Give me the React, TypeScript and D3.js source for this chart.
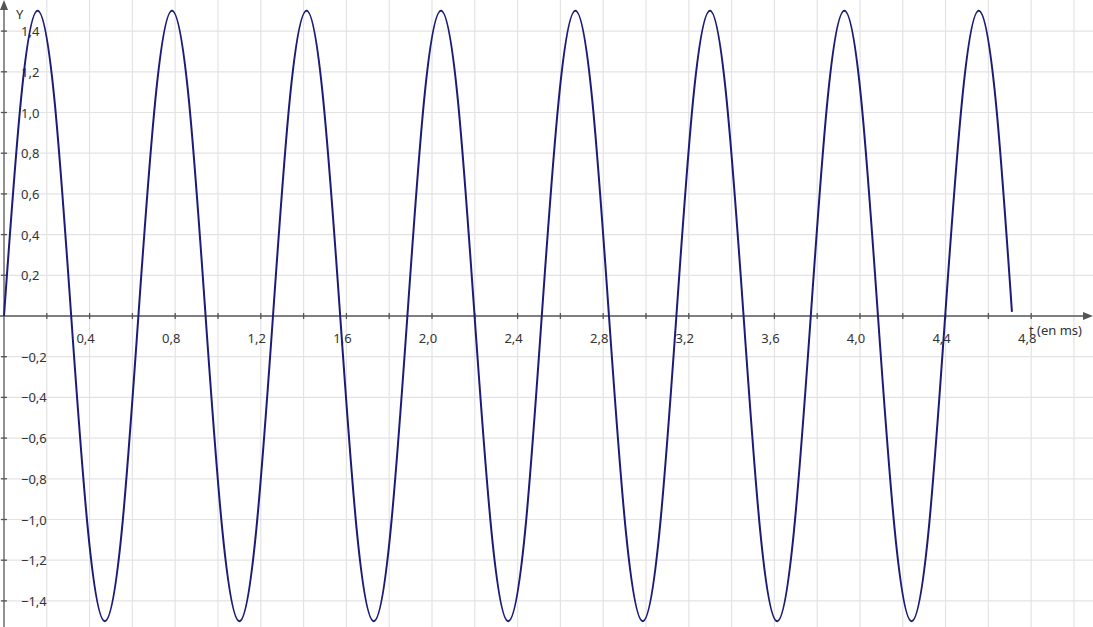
import * as d3 from "d3";
import { useEffect, useRef } from "react";

// signal samples (t in ms, amplitude)
const tValues = [
  0, 0.079, 0.157, 0.236, 0.314, 0.393, 0.471, 0.55, 0.628, 0.707, 0.785, 0.864,
  0.942, 1.021, 1.1, 1.178, 1.257, 1.335, 1.414, 1.492, 1.571, 1.649, 1.728,
  1.806, 1.885, 1.963, 2.042, 2.121, 2.199, 2.278, 2.356, 2.435, 2.513, 2.592,
  2.67, 2.749, 2.827, 2.906, 2.985, 3.063, 3.142, 3.22, 3.299, 3.377, 3.456,
  3.534, 3.613, 3.691, 3.77, 3.848, 3.927, 4.006, 4.084, 4.163, 4.241, 4.32,
  4.398, 4.477, 4.555, 4.634, 4.71,
];
const yValues = [
  0, 1.06, 1.5, 1.06, 0, -1.06, -1.5, -1.06,
  0, 1.06, 1.5, 1.06, 0, -1.06, -1.5, -1.06,
  0, 1.06, 1.5, 1.06, 0, -1.06, -1.5, -1.06,
  0, 1.06, 1.5, 1.06, 0, -1.06, -1.5, -1.06,
  0, 1.06, 1.5, 1.06, 0, -1.06, -1.5, -1.06,
  0, 1.06, 1.5, 1.06, 0, -1.06, -1.5, -1.06,
  0, 1.06, 1.5, 1.06, 0, -1.06, -1.5, -1.06,
  0, 1.06, 1.5, 1.06, 0.02,
];

const xGrid = [0.2, 0.4, 0.6, 0.8, 1.0, 1.2, 1.4, 1.6, 1.8, 2.0, 2.2, 2.4, 2.6, 2.8, 3.0, 3.2, 3.4, 3.6, 3.8, 4.0, 4.2, 4.4, 4.6, 4.8, 5.0];
const xLabels = [0.4, 0.8, 1.2, 1.6, 2.0, 2.4, 2.8, 3.2, 3.6, 4.0, 4.4, 4.8];
const yGrid = [-1.4, -1.2, -1.0, -0.8, -0.6, -0.4, -0.2, 0.2, 0.4, 0.6, 0.8, 1.0, 1.2, 1.4];

const W = 1093;
const H = 627;

export default function App() {
  const ref = useRef<SVGSVGElement>(null);

  useEffect(() => {
    document.body.style.margin = "0";
    const svg = d3.select(ref.current);
    svg.selectAll("*").remove();

    const x = d3.scaleLinear().domain([0, 1]).range([4, 218]);
    const y = d3.scaleLinear().domain([0, 1]).range([316, 112.5]);

    const fr = d3.formatLocale({
      decimal: ",",
      thousands: " ",
      grouping: [3],
      currency: ["", ""],
      minus: "\u2212",
    });
    const fmt = fr.format(".1f");

    svg.append("rect").attr("width", W).attr("height", H).attr("fill", "#fff");

    // grid
    const grid = svg.append("g").attr("stroke", "#e3e3e3").attr("stroke-width", 1.2);
    grid
      .selectAll("line.v")
      .data(xGrid)
      .join("line")
      .attr("class", "v")
      .attr("x1", (d) => x(d))
      .attr("x2", (d) => x(d))
      .attr("y1", 0)
      .attr("y2", H);
    grid
      .selectAll("line.h")
      .data(yGrid)
      .join("line")
      .attr("class", "h")
      .attr("x1", 0)
      .attr("x2", W)
      .attr("y1", (d) => y(d))
      .attr("y2", (d) => y(d));

    // axes
    const axisColor = "#555";
    const ax = svg.append("g").attr("stroke", axisColor).attr("stroke-width", 1.3);
    ax.append("line").attr("x1", 0).attr("x2", W - 6).attr("y1", y(0)).attr("y2", y(0));
    ax.append("line").attr("x1", x(0)).attr("x2", x(0)).attr("y1", 6).attr("y2", H);
    ax.selectAll("line.xt")
      .data(xGrid.slice(0, 24))
      .join("line")
      .attr("class", "xt")
      .attr("x1", (d) => x(d))
      .attr("x2", (d) => x(d))
      .attr("y1", y(0) - 3)
      .attr("y2", y(0) + 3);
    ax.selectAll("line.yt")
      .data(yGrid)
      .join("line")
      .attr("class", "yt")
      .attr("x1", x(0) - 3)
      .attr("x2", x(0) + 3)
      .attr("y1", (d) => y(d))
      .attr("y2", (d) => y(d));

    // arrow heads
    svg
      .append("path")
      .attr("d", `M${W},${y(0)} L${W - 10},${y(0) - 4} L${W - 10},${y(0) + 4} Z`)
      .attr("fill", axisColor);
    svg
      .append("path")
      .attr("d", `M${x(0)},0 L${x(0) - 4},10 L${x(0) + 4},10 Z`)
      .attr("fill", axisColor);

    const font = "'Noto Sans', 'Open Sans', sans-serif";

    // tick labels
    svg
      .append("g")
      .selectAll("text")
      .data(xLabels)
      .join("text")
      .attr("x", (d) => x(d) - 4)
      .attr("y", y(0) + 27)
      .attr("text-anchor", "middle")
      .attr("font-family", font)
      .attr("font-size", 13)
      .attr("fill", "#333")
      .text((d) => fmt(d));
    svg
      .append("g")
      .selectAll("text")
      .data(yGrid)
      .join("text")
      .attr("x", 21)
      .attr("y", (d) => y(d) + 5)
      .attr("font-family", font)
      .attr("font-size", 13)
      .attr("fill", "#333")
      .text((d) => fmt(d));

    // axis names
    svg
      .append("text")
      .attr("x", 16)
      .attr("y", 19)
      .attr("font-family", font)
      .attr("font-size", 13)
      .attr("fill", "#333")
      .text("Y");
    svg
      .append("text")
      .attr("x", 1029)
      .attr("y", 335)
      .attr("font-family", font)
      .attr("font-size", 13)
      .attr("fill", "#333")
      .text("t (en ms)");

    // signal
    const pts = tValues.map((t, i) => [t, yValues[i]] as [number, number]);
    const line = d3
      .line<[number, number]>()
      .x((d) => x(d[0]))
      .y((d) => y(d[1]))
      .curve(d3.curveNatural);
    svg
      .append("path")
      .attr("d", line(pts))
      .attr("fill", "none")
      .attr("stroke", "#1c1c78")
      .attr("stroke-width", 2);
  }, []);

  return (
    <svg
      ref={ref}
      width={W}
      height={H}
      style={{ position: "absolute", left: 0, top: 0, display: "block" }}
    />
  );
}
